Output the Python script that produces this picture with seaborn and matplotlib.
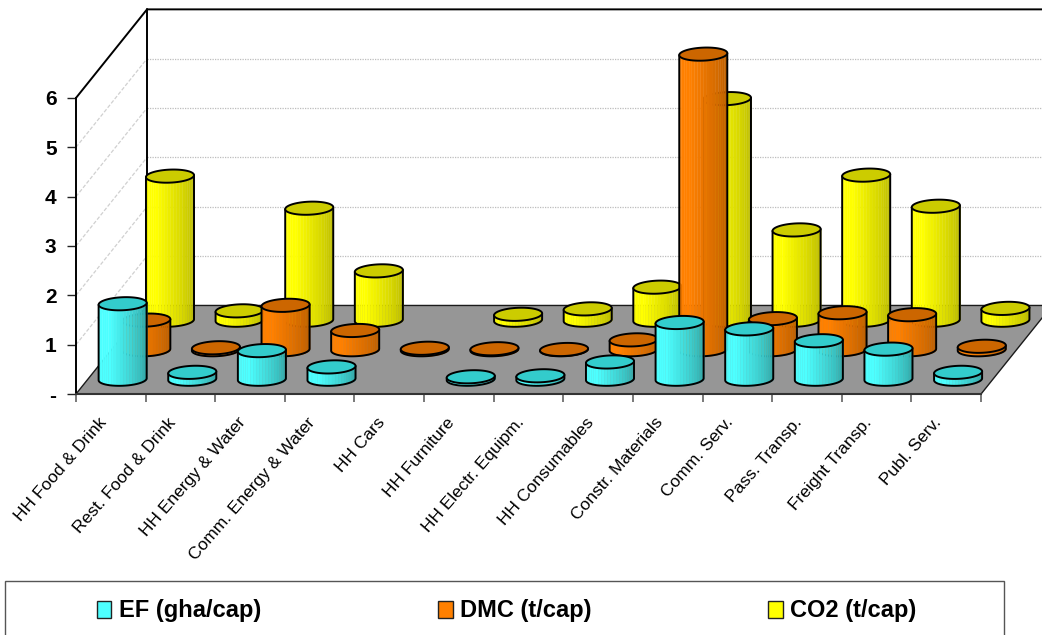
import numpy as np
import matplotlib
matplotlib.use("Agg")
import matplotlib.pyplot as plt
from matplotlib.patches import Patch, Rectangle
from matplotlib.transforms import ScaledTranslation
import seaborn as sns

# Per-capita indicators by consumption category
categories = ["HH Food & Drink", "Rest. Food & Drink", "HH Energy & Water",
              "Comm. Energy & Water", "HH Cars", "HH Furniture",
              "HH Electr. Equipm.", "HH Consumables", "Constr. Materials",
              "Comm. Serv.", "Pass. Transp.", "Freight Transp.", "Publ. Serv."]
ef_values = [1.53, 0.14, 0.58, 0.25, 0.0, 0.05, 0.07, 0.35, 1.15, 1.02, 0.78, 0.61, 0.14]
dmc_values = [0.60, 0.04, 0.90, 0.39, 0.03, 0.02, 0.005, 0.20, 5.99, 0.63, 0.75, 0.71, 0.07]
co2_values = [2.92, 0.19, 2.27, 1.00, 0.0, 0.12, 0.23, 0.67, 4.49, 1.83, 2.94, 2.31, 0.24]
series_names = ["EF (gha/cap)", "DMC (t/cap)", "CO2 (t/cap)"]
y_tick_labels = ["-", "1", "2", "3", "4", "5", "6"]

# (bright side, dark side, lid) for each series
shades = [("#4DFFFF", "#2E9C9C", "#33CCCC"),
          ("#FF8000", "#B35A00", "#CC6600"),
          ("#FFFF00", "#B3B300", "#CCCC00")]

W, H = 1042, 635
PX_X, PX_Y = 69.62, 49.35        # pixels per category / per value unit
ORIGIN_X, ORIGIN_Y = 76, 394     # pixel position of the chart origin
STEP_X, STEP_Y = 0.34, 0.598     # oblique shift per series row
RX, RY = 0.345, 0.132            # cylinder ellipse radii in data units
SKEW = 0.045 * PX_X / PX_Y * 0.9  # slight tilt of the ellipses
LINE = 1.4                       # outline weight of cylinders and walls

sns.set_theme(style="white")
plt.rcParams["font.family"] = ["Liberation Sans", "DejaVu Sans"]
plt.rcParams["text.color"] = "black"

fig = plt.figure(figsize=(W / 100, H / 100), dpi=100, facecolor="white")
ax = fig.add_axes([0, 0, 1, 1], facecolor="white")
ax.set_xlim(-ORIGIN_X / PX_X, (W - ORIGIN_X) / PX_X)
ax.set_ylim(-(H - ORIGIN_Y) / PX_Y, ORIGIN_Y / PX_Y)

n = len(categories)
depth_x, depth_y = 3 * STEP_X, 3 * STEP_Y
y_max = len(y_tick_labels) - 1
x_right = ax.get_xlim()[1]

# Gridlines on the back and side walls
for k in range(1, y_max):
    ax.plot([depth_x, x_right], [k + depth_y] * 2, color="#BDBDBD", lw=0.9,
            ls=(0, (1, 1)), zorder=1)
    ax.plot([0, depth_x], [k, k + depth_y], color="#D0D0D0", lw=0.9,
            ls=(0, (3, 1.5)), zorder=1)

# Floor and wall outlines
ax.fill([0, n, n + depth_x, depth_x], [0, 0, depth_y, depth_y],
        facecolor="#969696", edgecolor="#1A1A1A", lw=1.0, zorder=2)
outline = dict(color="black", lw=LINE, zorder=2.2, solid_capstyle="round")
ax.plot([0, depth_x, x_right], [y_max, y_max + depth_y, y_max + depth_y], **outline)
ax.plot([depth_x, depth_x], [depth_y, y_max + depth_y], **outline)


def ellipse(cx, cy, theta):
    x = RX * np.cos(theta)
    return cx + x, cy + RY * np.sin(theta) + SKEW * x


def cylinder(cx, base, value, palette, lid, z):
    """Draw one cylinder: shaded strips for the side, an outline, then the lid."""
    top = base + value
    lower = np.linspace(np.pi, 2 * np.pi, len(palette) + 1)
    xs, ys = ellipse(cx, base, lower)
    xt, yt = ellipse(cx, top, lower)
    for j, colour in enumerate(palette):
        ax.fill_between(xs[j:j + 2], ys[j:j + 2], yt[j:j + 2], color=colour,
                        lw=0.25, zorder=z)
    fine = np.linspace(np.pi, 2 * np.pi, 60)
    bx, by = ellipse(cx, base, fine)
    tx, ty = ellipse(cx, top, fine)
    ax.plot(np.r_[tx[0], bx, tx[-1]], np.r_[ty[0], by, ty[-1]], color="black",
            lw=LINE, zorder=z + 0.01)
    whole = np.linspace(0, 2 * np.pi, 120)
    ax.fill(*ellipse(cx, top, whole), facecolor=lid, edgecolor="black", lw=LINE,
            zorder=z + 0.02)


# Rear row first so nearer cylinders cover it
all_values = [ef_values, dmc_values, co2_values]
for s in (2, 1, 0):
    bright, dark, lid = shades[s]
    palette = (sns.blend_palette([bright, bright], 7)
               + sns.blend_palette([bright, dark], 17))
    for i, v in enumerate(all_values[s]):
        if v > 0:
            cylinder(i + 0.5 + (s + 0.5) * STEP_X, (s + 0.5) * STEP_Y, v,
                     palette, lid, 3 + (2 - s) + i * 0.05)

# Axes: spines run along the front edge of the floor and the side wall
for side in ("top", "right"):
    ax.spines[side].set_visible(False)
ax.spines["left"].set_position(("data", 0))
ax.spines["left"].set_bounds(0, y_max)
ax.spines["left"].set_linewidth(LINE)
ax.spines["left"].set_color("black")
ax.spines["bottom"].set_position(("data", 0))
ax.spines["bottom"].set_bounds(0, n)
ax.spines["bottom"].set_linewidth(1.5)
ax.spines["bottom"].set_color("#333333")

ax.set_yticks(range(y_max + 1))
ax.set_yticklabels(y_tick_labels, fontsize=15, fontweight="bold", color="black")
ax.tick_params(axis="y", length=6.5, width=1.0, color="#222222", pad=7.5, left=True)

ax.set_xticks(range(n + 1))
ax.set_xticklabels([])
ax.tick_params(axis="x", which="major", length=6, width=1.1, color="#555555",
               bottom=True)
ax.set_xticks(np.arange(n) + 0.5, minor=True)
ax.set_xticklabels(categories, minor=True, rotation=49, ha="right", va="top",
                   rotation_mode="anchor", fontsize=12.5, color="black")
ax.tick_params(axis="x", which="minor", length=0, pad=15, bottom=True)
nudge = ScaledTranslation(-13 / 100, 0, fig.dpi_scale_trans)
for label in ax.get_xticklabels(minor=True):
    label.set_transform(label.get_transform() + nudge)

# Legend strip along the bottom of the figure
ax.add_patch(Rectangle((5 / W, -0.02), 999 / W, 54 / H + 0.02,
                       transform=ax.transAxes, facecolor="white",
                       edgecolor="#555555", lw=1.0, zorder=0.5))
handles = [Patch(facecolor=b, edgecolor="#222222", lw=1.0) for b, _, _ in shades]
ax.legend(handles, series_names, loc="center", bbox_to_anchor=(506.5 / W, 1 - 611 / H),
          ncol=3, frameon=False, prop={"size": 17, "weight": "bold"},
          labelcolor="black", handlelength=0.62, handleheight=0.72,
          handletextpad=0.3, columnspacing=7.5, borderpad=0, borderaxespad=0)

fig.savefig("out.png", dpi=100, facecolor="white")
